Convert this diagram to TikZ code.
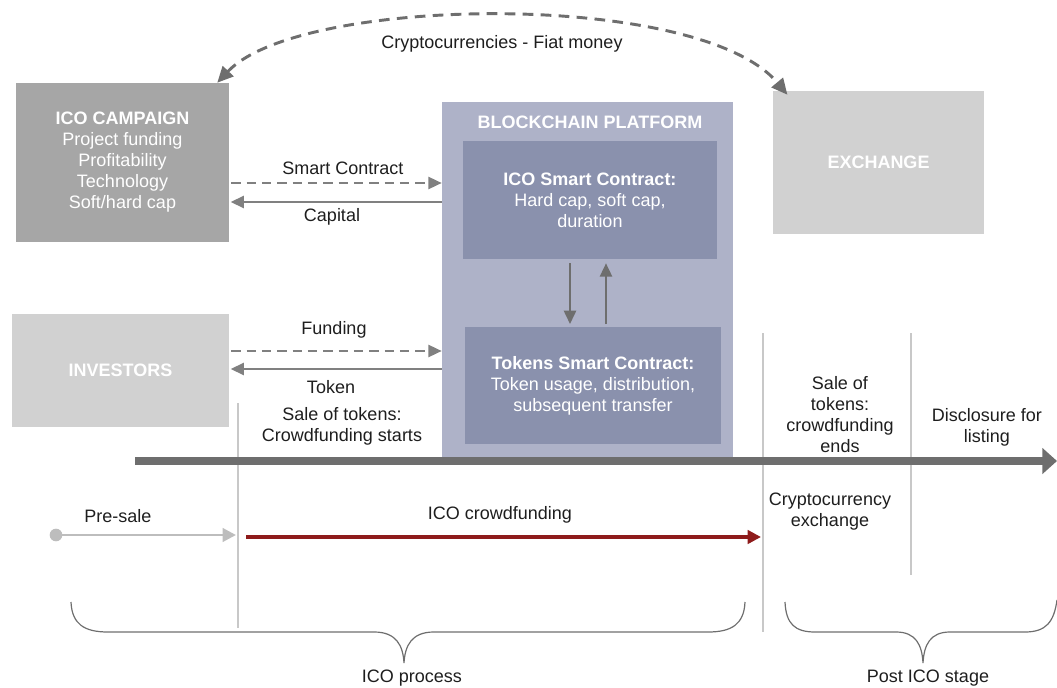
\documentclass[tikz,border=0pt]{standalone}
\usepackage{fontspec}
\setmainfont{Liberation Sans}
\usetikzlibrary{arrows.meta}
\definecolor{campaign}{HTML}{A6A6A6}
\definecolor{lightbox}{HTML}{D1D1D1}
\definecolor{chain}{HTML}{AEB2C8}
\definecolor{contract}{HTML}{8A91AD}
\definecolor{arrowgray}{HTML}{808080}
\definecolor{darkgray2}{HTML}{6E6E6E}
\definecolor{presale}{HTML}{BDBDBD}
\definecolor{crowdred}{HTML}{8E1B1B}
\definecolor{vline}{HTML}{C8C8C8}
\definecolor{txt}{HTML}{1E1E1E}
\tikzset{
  lbl/.style={font=\fontsize{13.5}{15.75}\selectfont, text=txt, align=center, inner sep=0pt},
  boxw/.style={font=\fontsize{13.5}{15.75}\selectfont, text=white, align=center, inner sep=0pt, draw=none},
  solidarr/.style={draw=arrowgray, line width=1.8pt, -{Triangle[length=10pt,width=9pt]}},
  dasharr/.style={draw=arrowgray, line width=1.8pt, dash pattern=on 7pt off 4.5pt, -{Triangle[length=10pt,width=9pt]}},
  vertarr/.style={draw=darkgray2, line width=1.8pt, -{Triangle[length=10pt,width=9pt]}},
  sepline/.style={draw=vline, line width=0.8pt},
  bracestyle/.style={draw=darkgray2, line width=0.9pt}
}
\begin{document}
\begin{tikzpicture}[x=0.75pt,y=-0.75pt]
\useasboundingbox (0,0) rectangle (1057,688);

% boxes
\node[boxw, fill=campaign, minimum width=159.75pt, minimum height=119.25pt] (ico) at (122.5,162.5)
  {\textbf{ICO CAMPAIGN}\\Project funding\\Profitability\\Technology\\Soft/hard cap};
\node[boxw, fill=chain, minimum width=218.25pt, minimum height=267pt] (bc) at (587.5,280) {};
\node[boxw] (bctitle) at (590,122) {\textbf{BLOCKCHAIN PLATFORM}};
\node[boxw, fill=contract, minimum width=190.5pt, minimum height=88.5pt] (icosc) at (590,200)
  {\textbf{ICO Smart Contract:}\\Hard cap, soft cap,\\duration};
\node[boxw, fill=contract, minimum width=192pt, minimum height=87.75pt] (tok) at (593,385.5)
  {\textbf{Tokens Smart Contract:}\\Token usage, distribution,\\subsequent transfer};
\node[boxw, fill=lightbox, minimum width=158.25pt, minimum height=107.25pt] (exch) at (878.5,162.5)
  {\textbf{EXCHANGE}};
\node[boxw, fill=lightbox, minimum width=162.75pt, minimum height=84.75pt] (inv) at (120.5,370.5)
  {\textbf{INVESTORS}};

% horizontal connectors
\coordinate (ysc) at (0,183);
\coordinate (ycap) at (0,202);
\coordinate (yfund) at (0,351);
\coordinate (ytok) at (0,369);
\draw[dasharr] ([xshift=1.5pt]ico.east |- ysc) -- (bc.west |- ysc);
\draw[solidarr] (bc.west |- ycap) -- ([xshift=1pt]ico.east |- ycap);
\draw[dasharr] ([xshift=1.5pt]inv.east |- yfund) -- (bc.west |- yfund);
\draw[solidarr] (bc.west |- ytok) -- ([xshift=1pt]inv.east |- ytok);
\node[lbl] (lsc) at (343,168) {Smart Contract};
\node[lbl] (lcap) at (332,217) {Capital};
\node[lbl] (lfund) at (334,330) {Funding};
\node[lbl] (ltok) at (331,387) {Token};

% vertical arrows in platform
\coordinate (xdown) at (570,0);
\coordinate (xup) at (606,0);
\draw[vertarr, shorten <=3pt, shorten >=2pt] (icosc.south -| xdown) -- (tok.north -| xdown);
\draw[vertarr, shorten <=2pt, shorten >=3pt] (tok.north -| xup) -- (icosc.south -| xup);

% curved exchange arrow
\draw[draw=darkgray2, line width=2.2pt, dash pattern=on 8pt off 5.5pt,
      {Triangle[length=12pt,width=11pt]}-{Triangle[length=12pt,width=11pt]}]
  ([xshift=-9pt]ico.north east) .. controls (300,-5) and (700,-10) .. ([xshift=11pt,yshift=-3pt]exch.north west);
\node[lbl] (lcf) at (502,44) {Cryptocurrencies - Fiat money};

% separator lines
\coordinate (s1t) at (238,403); \coordinate (s1b) at (238,628);
\coordinate (s2t) at (763,333); \coordinate (s2b) at (763,632);
\coordinate (s3t) at (911,333); \coordinate (s3b) at (911,575);
\draw[sepline] (s1t) -- (s1b);
\draw[sepline] (s2t) -- (s2b);
\draw[sepline] (s3t) -- (s3b);

% timeline
\coordinate (tl0) at (135,461);
\coordinate (tl1) at (1057,461);
\draw[draw=darkgray2, line width=6.5pt, -{Triangle[length=11pt,width=19pt]}] (tl0) -- (tl1);

\node[lbl] (lstart) at (342,426) {Sale of tokens:\\Crowdfunding starts};
\node[lbl] (lend) at (840,415) {Sale of\\tokens:\\crowdfunding\\ends};
\node[lbl] (ldisc) at (987,427) {Disclosure for\\listing};
\node[lbl] (lcex) at (830,512) {Cryptocurrency\\exchange};

% pre-sale and crowdfunding
\node[circle, fill=presale, inner sep=0pt, minimum size=9.5pt] (dot) at (56,535) {};
\coordinate (pse) at (236,535);
\draw[draw=presale, line width=2.2pt, -{Triangle[length=10pt,width=10pt]}] (dot.center) -- (pse);
\node[lbl] (lps) at (118,516) {Pre-sale};
\coordinate (cfs) at (246,537);
\coordinate (cfe) at (761,537);
\draw[draw=crowdred, line width=2.6pt, -{Triangle[length=10pt,width=10pt]}] (cfs) -- (cfe);
\node[lbl] (lcfund) at (500,515) {ICO crowdfunding};

% braces
\draw[bracestyle] (71,602) .. controls (72,624) and (84,632) .. (108,632) -- (374,632)
  .. controls (396,632) and (403,645) .. (404,663)
  .. controls (405,645) and (412,632) .. (434,632) -- (708,632)
  .. controls (732,632) and (744,624) .. (745,602);
\draw[bracestyle] (785,602) .. controls (786,624) and (795,632) .. (815,632) -- (896,632)
  .. controls (916,632) and (922,645) .. (923,663)
  .. controls (924,645) and (930,632) .. (950,632) -- (1025,632)
  .. controls (1046,632) and (1054,622) .. (1057,600);
\node[lbl] (lproc) at (412,678) {ICO process};
\node[lbl] (lpost) at (928,678) {Post ICO stage};
\end{tikzpicture}
\end{document}
